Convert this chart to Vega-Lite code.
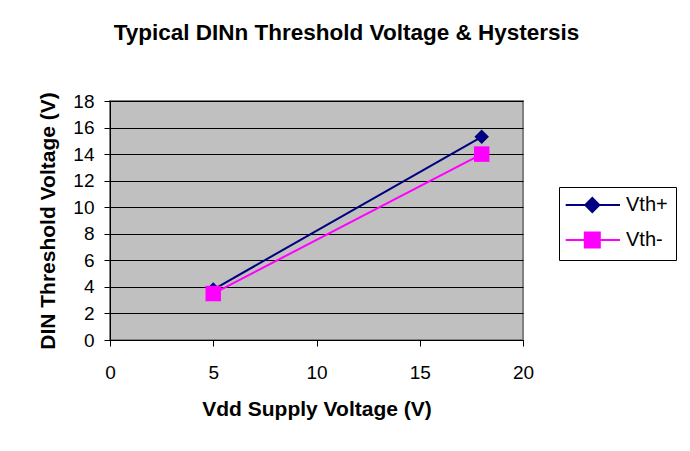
{
  "$schema": "https://vega.github.io/schema/vega-lite/v6.json",
  "width": 413,
  "height": 239,
  "autosize": {"type": "none"},
  "padding": {"left": 110, "top": 101, "right": 167, "bottom": 111},
  "background": "#ffffff",
  "title": {
    "text": "Typical DINn Threshold Voltage & Hystersis",
    "font": "Liberation Sans",
    "fontSize": 22.5,
    "fontWeight": "bold",
    "color": "#000000",
    "anchor": "middle",
    "frame": "group",
    "dx": 30,
    "offset": 47
  },
  "data": {
    "values": [
      {"series": "Vth+", "vdd": 5, "v": 3.8},
      {"series": "Vth+", "vdd": 18, "v": 15.3},
      {"series": "Vth-", "vdd": 5, "v": 3.5},
      {"series": "Vth-", "vdd": 18, "v": 14.0}
    ]
  },
  "encoding": {
    "x": {
      "field": "vdd", "type": "quantitative",
      "scale": {"domain": [0, 20], "nice": false, "zero": false},
      "axis": {"title": "Vdd Supply Voltage (V)", "values": [0, 5, 10, 15, 20], "grid": false, "labelFlush": false, "labelPadding": 17, "titlePadding": 16}
    },
    "y": {
      "field": "v", "type": "quantitative",
      "scale": {"domain": [0, 18], "nice": false, "zero": false},
      "axis": {"title": "DIN Threshold Voltage (V)", "values": [0, 2, 4, 6, 8, 10, 12, 14, 16, 18], "grid": true, "labelFlush": false, "labelPadding": 10, "titlePadding": 14}
    },
    "color": {
      "field": "series", "type": "nominal",
      "scale": {"domain": ["Vth+", "Vth-"], "range": ["#000080", "#FF00FF"]},
      "legend": {
        "title": null,
        "orient": "none",
        "legendX": 449,
        "legendY": 86,
        "strokeColor": "#000000",
        "fillColor": "#ffffff",
        "padding": 8,
        "labelFont": "Liberation Sans",
        "labelFontSize": 20,
        "labelColor": "#000000",
        "symbolSize": 100,
        "symbolStrokeWidth": 2,
        "labelOffset": 39,
        "rowPadding": 12,
        "encode": {
          "symbols": {
            "update": {
              "shape": {"signal": "datum.value === 'Vth+' ? 'M-2.26,0H8.6M3.06,-1.4L4.46,0L3.06,1.4L1.66,0Z' : 'M-2.26,0H8.6M1.56,-1.5H4.56V1.5H1.56Z'"},
              "fill": {"scale": "color", "field": "value"},
              "stroke": {"scale": "color", "field": "value"},
              "opacity": {"value": 1}
            }
          }
        }
      }
    }
  },
  "layer": [
    {"mark": {"type": "line", "strokeWidth": 2}},
    {
      "transform": [{"filter": "datum.series === 'Vth+'"}],
      "mark": {"type": "point", "shape": "diamond", "filled": true, "size": 210, "opacity": 1}
    },
    {
      "transform": [{"filter": "datum.series === 'Vth-'"}],
      "mark": {"type": "point", "shape": "square", "filled": true, "size": 240, "opacity": 1}
    }
  ],
  "config": {
    "view": {"fill": "#C0C0C0", "stroke": "#808080", "strokeWidth": 2},
    "axis": {
      "labelFont": "Liberation Sans",
      "labelFontSize": 19,
      "labelColor": "#000000",
      "titleFont": "Liberation Sans",
      "titleFontSize": 21,
      "titleFontWeight": "bold",
      "titleColor": "#000000",
      "domainColor": "#000000",
      "domainWidth": 1,
      "tickColor": "#000000",
      "tickSize": 6,
      "gridColor": "#000000",
      "gridWidth": 1,
      "gridOpacity": 1
    }
  }
}
